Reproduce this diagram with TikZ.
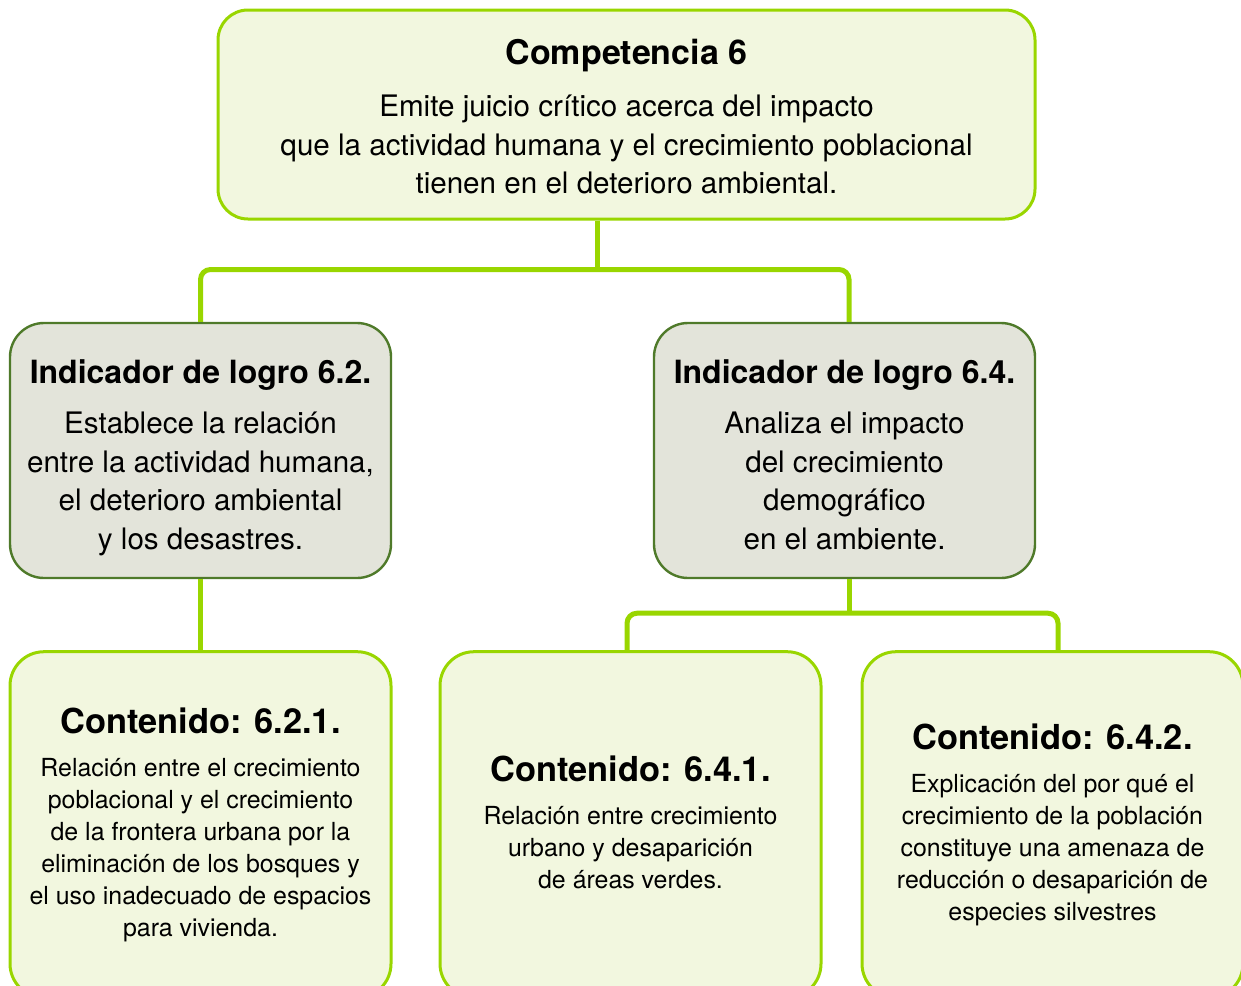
\documentclass[tikz,border=0pt]{standalone}
\usepackage{fontspec}
\setmainfont{TeX Gyre Heros}
\usepackage{tikz}
\usetikzlibrary{positioning}

\definecolor{limeline}{RGB}{153,214,0}
\definecolor{palefill}{RGB}{242,247,223}
\definecolor{greyfill}{RGB}{227,228,218}
\definecolor{darkline}{RGB}{79,122,42}

\begin{document}
\begin{tikzpicture}[x=0.5pt, y=-0.5pt,
        Competence/.style={rectangle, rounded corners=15pt, draw=limeline, line width=1.5pt, fill=palefill, minimum width=408.5pt, minimum height=104.5pt, align=center, text depth=0pt, font=\fontsize{14.8}{19.2}\selectfont},
        Indicator/.style={rectangle, rounded corners=17pt, draw=darkline, line width=1.2pt, fill=greyfill, minimum width=190.5pt, minimum height=127.5pt, align=center, text depth=0pt, font=\fontsize{14.8}{19.2}\selectfont},
        Content/.style={rectangle, rounded corners=17pt, draw=limeline, line width=1.5pt, fill=palefill, minimum width=190.5pt, minimum height=173pt, align=center, text depth=2.6pt, font=\fontsize{12.45}{16}\selectfont},
        Link/.style={draw=limeline, line width=2.5pt, rounded corners=5pt}
    ]

    \useasboundingbox (0,0) rectangle (1241,985);

    % Competence at the top
    \node (top) [Competence] at (626.5,114.5) {{\fontsize{17}{20}\selectfont\bfseries\rule{0pt}{14.6pt}Competencia 6}\\[7pt]
        Emite juicio crítico acerca del impacto\\
        que la actividad humana y el crecimiento poblacional\\
        tienen en el deterioro ambiental.};

    % Achievement indicators
    \node (ind62) [Indicator] at (200.5,450.5) {{\fontsize{16}{19}\selectfont\bfseries\rule{0pt}{15.7pt}Indicador de logro 6.2.}\\[6pt]
        Establece la relación\\
        entre la actividad humana,\\
        el deterioro ambiental\\
        y los desastres.};
    \node (ind64) [Indicator] at (844.5,450.5) {{\fontsize{16}{19}\selectfont\bfseries\rule{0pt}{15.7pt}Indicador de logro 6.4.}\\[6pt]
        Analiza el impacto\\
        del crecimiento\\
        demográfico\\
        en el ambiente.};

    % Contents under each indicator
    \node (c621) [Content, below=35.5pt of ind62] {{\fontsize{17.2}{20}\selectfont\bfseries Contenido: 6.2.1.}\\[5.5pt]
        Relación entre el crecimiento\\
        poblacional y el crecimiento\\
        de la frontera urbana por la\\
        eliminación de los bosques y\\
        el uso inadecuado de espacios\\
        para vivienda.};
    \node (c641) [Content, below=35.5pt of ind64, xshift=-107pt] {{\fontsize{17.2}{20}\selectfont\bfseries Contenido: 6.4.1.}\\[5.5pt]
        Relación entre crecimiento\\
        urbano y desaparición\\
        de áreas verdes.};
    \node (c642) [Content, below=35.5pt of ind64, xshift=104pt] {{\fontsize{17.2}{20}\selectfont\bfseries Contenido: 6.4.2.}\\[5.5pt]
        Explicación del por qué el\\
        crecimiento de la población\\
        constituye una amenaza de\\
        reducción o desaparición de\\
        especies silvestres};

    % Connectors
    \draw[Link] ([xshift=-14.75pt]top.south) -- ++(0,49);
    \draw[Link] (ind62.north) |- ([yshift=-24.5pt]top.south) -| ([xshift=2.25pt]ind64.north);
    \draw[Link] (ind62) -- (c621);
    \draw[Link] ([xshift=2.25pt]ind64.south) -- ++(0,34);
    \draw[Link] ([xshift=-1.75pt]c641.north) |- ([yshift=-17pt]ind64.south) -| ([xshift=2.75pt]c642.north);

\end{tikzpicture}
\end{document}
